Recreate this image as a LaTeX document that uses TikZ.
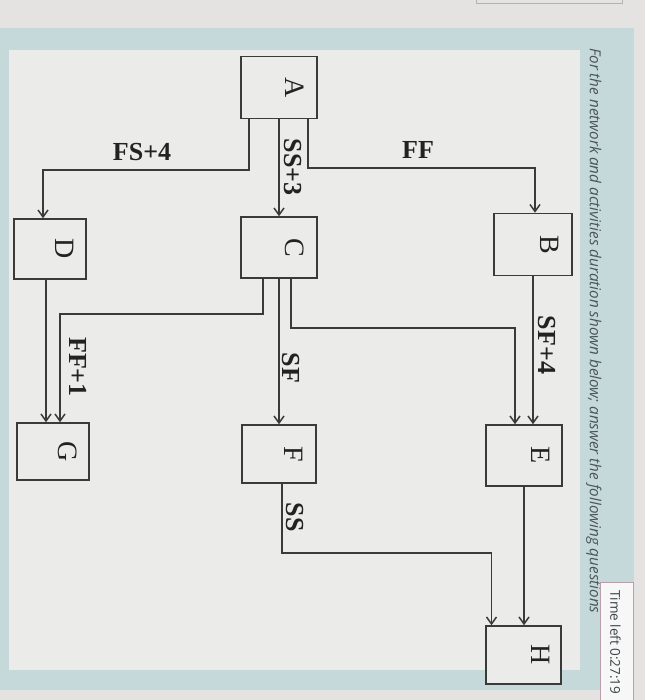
\documentclass[tikz,border=0pt]{standalone}
\usepackage{fontspec}
\setmainfont{Liberation Serif}
\newfontfamily\uifont{Open Sans}
\usetikzlibrary{arrows.meta}
\definecolor{outerbg}{HTML}{E4E3E1}
\definecolor{frame}{HTML}{C6D9DA}
\definecolor{panel}{HTML}{EBEBEA}
\definecolor{linec}{HTML}{3A3A3A}
\definecolor{inkc}{HTML}{222222}
\definecolor{uitext}{HTML}{4A5558}
\definecolor{timebox}{HTML}{B9A0A8}
\begin{document}
\begin{tikzpicture}[x=1pt,y=-1pt,
  box/.style={draw=linec, line width=1.5pt, fill=panel, inner sep=0pt},
  letter/.style={rotate=-90, font=\fontsize{28}{30}\selectfont, text=inkc, inner sep=0pt},
  lab/.style={font=\bfseries\fontsize{26}{28}\selectfont, text=inkc, inner sep=0pt},
  rlab/.style={lab, rotate=-90},
  conn/.style={draw=linec, line width=1.5pt, -{Straight Barb[length=7pt,width=10pt]}},
]
\useasboundingbox (0,0) rectangle (645,700);
\clip (0,0) rectangle (645,700);
% screen background
\fill[outerbg] (0,0) rectangle (645,700);
\draw[gray!60, line width=0.8pt] (476,-10) rectangle (622,3);
\fill[frame] (0,28) rectangle (634,690);
\fill[panel] (9,50) rectangle (580,670);
% question text
\node[rotate=-90, anchor=south west, inner sep=0pt, text=uitext,
      font=\uifont\itshape\fontsize{15.2}{17}\selectfont] (q) at (586,48)
  {For the network and activities duration shown below; answer the following questions};
% timer
\draw[timebox, fill=white!60!panel, line width=0.8pt] (600,582) rectangle (633,710);
\node[rotate=-90, anchor=south west, inner sep=0pt, text=uitext!80!black,
      font=\uifont\fontsize{13.5}{15}\selectfont] (tl) at (610,590) {Time left 0:27:19};

% boxes
\node[box, minimum width=76pt, minimum height=62pt] (A) at (279,87.5) {};
\node[box, minimum width=78pt, minimum height=62pt] (B) at (533,244.5) {};
\node[box, minimum width=76pt, minimum height=61pt] (C) at (279,247.5) {};
\node[box, minimum width=72pt, minimum height=60pt] (D) at (50,249) {};
\node[box, minimum width=76pt, minimum height=61pt] (E) at (524,455.5) {};
\node[box, minimum width=74pt, minimum height=58pt] (F) at (279,454) {};
\node[box, minimum width=72pt, minimum height=57pt] (G) at (53,451.5) {};
\node[box, minimum width=75pt, minimum height=58pt] (H) at (523.5,655) {};

\node[letter] (At) at ([xshift=16pt]A.center) {A};
\node[letter] (Bt) at ([xshift=17pt]B.center) {B};
\node[letter] (Ct) at ([xshift=16pt]C.center) {C};
\node[letter] (Dt) at ([xshift=15pt]D.center) {D};
\node[letter] (Et) at ([xshift=17pt]E.center) {E};
\node[letter] (Ft) at ([xshift=15pt]F.center) {F};
\node[letter] (Gt) at ([xshift=15pt]G.center) {G};
\node[letter] (Ht) at ([xshift=17pt]H.center) {H};

% connectors
\draw[conn] ([xshift=-30pt]A.south) -- ++(0,51) -| ([xshift=-7pt]D.north);
\draw[conn] (A.south) -- (C.north);
\draw[conn] ([xshift=29pt]A.south) -- ++(0,49) -| ([xshift=2pt]B.north);
\draw[conn] (B.south) -- (B.south |- E.north);
\draw[conn] ([xshift=12pt]C.south) -- ++(0,49) -| ([xshift=-9pt]E.north);
\draw[conn] (C.south) -- (F.north);
\draw[conn] ([xshift=-16pt]C.south) -- ++(0,35) -| ([xshift=7pt]G.north);
\draw[conn] ([xshift=-4pt]D.south) -- ([xshift=-7pt]G.north);
\draw[conn] ([xshift=3pt]F.south) -- ++(0,69) -| ([xshift=-32pt]H.north);
\draw[conn] (E.south) -- (E.south |- H.north);

% labels
\node[lab] (l1) at (142,152) {FS+4};
\node[lab] (l2) at (418,150) {FF};
\node[rlab] (l3) at (293,167) {SS+3};
\node[rlab] (l4) at (547,345) {SF+4};
\node[rlab] (l5) at (291,368) {SF};
\node[rlab] (l6) at (78,367) {FF+1};
\node[rlab] (l7) at (295,517) {SS};
\end{tikzpicture}
\end{document}
